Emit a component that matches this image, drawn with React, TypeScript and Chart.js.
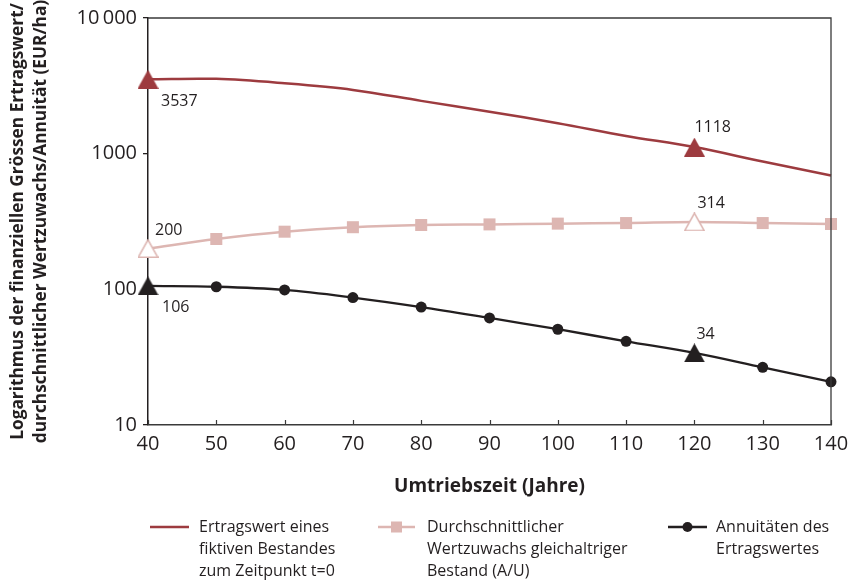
import React, { useEffect, useRef } from 'react';
import { Chart, registerables } from 'chart.js';

Chart.register(...registerables);

// ---------- data ----------
const YEARS = [40, 50, 60, 70, 80, 90, 100, 110, 120, 130, 140];
const ERTRAGSWERT = [3537, 3560, 3300, 2950, 2450, 2040, 1675, 1350, 1118, 875, 690];
const WERTZUWACHS = [200, 235, 266, 287, 298, 301, 305, 308, 314, 308, 303];
const ANNUITAET = [106, 104.5, 99, 87, 74, 61.5, 50.8, 41.4, 34, 26.6, 20.8];

const MARKED_YEARS = [40, 120];
const MARKED_ERTRAGSWERT = [3537, 1118];
const MARKED_WERTZUWACHS = [200, 314];
const MARKED_ANNUITAET = [106, 34];

const X_TICKS = [40, 50, 60, 70, 80, 90, 100, 110, 120, 130, 140];
const Y_TICKS = [10, 100, 1000, 10000];

const X_TITLE = 'Umtriebszeit (Jahre)';
const Y_TITLE = [
  'Logarithmus der finanziellen Grössen Ertragswert/',
  'durchschnittlicher Wertzuwachs/Annuität (EUR/ha)',
];
const LEGEND_LABELS = [
  ['Ertragswert eines', 'fiktiven Bestandes', 'zum Zeitpunkt t=0'],
  ['Durchschnittlicher', 'Wertzuwachs gleichaltriger', 'Bestand (A/U)'],
  ['Annuitäten des', 'Ertragswertes'],
];

// ---------- styles ----------
const FONT = "'Open Sans', 'DejaVu Sans', sans-serif";
const TEXT = '#231f20';
const RED = '#9d3b3f';
const PINK = '#ddb6b2';
const BLACK = '#231f20';
const AXIS = '#231f20';
const FRAME = '#3a3a3a';

function makeTriangle(fill: string, stroke: string, lw: number): HTMLCanvasElement {
  const w = 21;
  const h = 19;
  const c = document.createElement('canvas');
  c.width = w;
  c.height = h;
  const g = c.getContext('2d')!;
  const m = lw / 2;
  g.beginPath();
  g.moveTo(w / 2, m);
  g.lineTo(w - m, h - m);
  g.lineTo(m, h - m);
  g.closePath();
  g.fillStyle = fill;
  g.fill();
  if (lw > 0) {
    g.lineWidth = lw;
    g.strokeStyle = stroke;
    g.lineJoin = 'miter';
    g.stroke();
  }
  return c;
}

const pts = (vals: number[], xs: number[]) => vals.map((v, i) => ({ x: xs[i], y: v }));

const frameAndTicksPlugin = {
  id: 'frameAndTicks',
  afterDraw(chart: any) {
    const { ctx, chartArea } = chart;
    const { left, right, top, bottom } = chartArea;
    ctx.save();
    ctx.strokeStyle = FRAME;
    ctx.lineWidth = 1.3;
    ctx.beginPath();
    ctx.moveTo(left, top);
    ctx.lineTo(right, top);
    ctx.lineTo(right, bottom);
    ctx.stroke();
    const xs = chart.scales.x;
    ctx.lineWidth = 1.2;
    ctx.beginPath();
    X_TICKS.forEach((v) => {
      const px = Math.round(xs.getPixelForValue(v)) + 0.5;
      ctx.moveTo(px, bottom);
      ctx.lineTo(px, bottom - 5);
    });
    ctx.stroke();
    ctx.restore();
  },
};

const pointLabelPlugin = {
  id: 'pointLabels',
  afterDatasetsDraw(chart: any) {
    const { ctx } = chart;
    const xs = chart.scales.x;
    const ys = chart.scales.y;
    const groups = [
      { vals: MARKED_ERTRAGSWERT, off: [[13, 27], [0, -15]] },
      { vals: MARKED_WERTZUWACHS, off: [[7, -13], [3, -14]] },
      { vals: MARKED_ANNUITAET, off: [[14, 26], [2, -14]] },
    ];
    ctx.save();
    ctx.font = `16px ${FONT}`;
    ctx.fillStyle = TEXT;
    ctx.textAlign = 'left';
    ctx.textBaseline = 'alphabetic';
    groups.forEach((g) => {
      g.vals.forEach((v, i) => {
        const px = xs.getPixelForValue(MARKED_YEARS[i]);
        const py = ys.getPixelForValue(v);
        ctx.fillText(String(v), px + g.off[i][0], py + g.off[i][1]);
      });
    });
    ctx.restore();
  },
};

const legendPlugin = {
  id: 'customLegend',
  afterDraw(chart: any) {
    const { ctx } = chart;
    const items = [
      { x0: 150, x1: 189, tx: 199, color: RED, marker: 'none' },
      { x0: 378, x1: 415, tx: 427, color: PINK, marker: 'rect' },
      { x0: 668, x1: 707, tx: 716, color: BLACK, marker: 'circle' },
    ];
    const y0 = 527;
    const lh = 22;
    ctx.save();
    items.forEach((it, k) => {
      ctx.strokeStyle = it.color;
      ctx.lineWidth = 2.5;
      ctx.beginPath();
      ctx.moveTo(it.x0, y0);
      ctx.lineTo(it.x1, y0);
      ctx.stroke();
      const cx = (it.x0 + it.x1) / 2;
      ctx.fillStyle = it.color;
      if (it.marker === 'rect') {
        ctx.fillRect(cx - 5.5, y0 - 5.5, 11, 11);
      } else if (it.marker === 'circle') {
        ctx.beginPath();
        ctx.arc(cx, y0, 5, 0, Math.PI * 2);
        ctx.fill();
      }
      ctx.font = `16px ${FONT}`;
      ctx.fillStyle = TEXT;
      ctx.textAlign = 'left';
      ctx.textBaseline = 'middle';
      LEGEND_LABELS[k].forEach((line, j) => {
        ctx.fillText(line, it.tx, y0 + j * lh);
      });
    });
    ctx.restore();
  },
};

export default function App() {
  const ref = useRef<HTMLCanvasElement | null>(null);

  useEffect(() => {
    if (!ref.current) return;
    const triRed = makeTriangle(RED, RED, 0);
    const triBlack = makeTriangle(BLACK, BLACK, 0);
    const triHollow = makeTriangle('#ffffff', PINK, 1.6);
    const hideMarked = (r: number) => (c: any) =>
      MARKED_YEARS.includes(YEARS[c.dataIndex]) ? 0 : r;

    const chart = new Chart(ref.current, {
      type: 'line',
      data: {
        datasets: [
          {
            label: 'triRed',
            data: pts(MARKED_ERTRAGSWERT, MARKED_YEARS),
            showLine: false,
            pointStyle: triRed as any,
            pointRadius: 10,
            order: 0,
            clip: false as any,
          },
          {
            label: 'triPink',
            data: pts(MARKED_WERTZUWACHS, MARKED_YEARS),
            showLine: false,
            pointStyle: triHollow as any,
            pointRadius: 10,
            order: 0,
            clip: false as any,
          },
          {
            label: 'triBlack',
            data: pts(MARKED_ANNUITAET, MARKED_YEARS),
            showLine: false,
            pointStyle: triBlack as any,
            pointRadius: 10,
            order: 0,
            clip: false as any,
          },
          {
            label: 'Ertragswert',
            data: pts(ERTRAGSWERT, YEARS),
            borderColor: RED,
            borderWidth: 2.5,
            pointRadius: 0,
            tension: 0.35,
            order: 1,
            clip: false as any,
          },
          {
            label: 'Wertzuwachs',
            data: pts(WERTZUWACHS, YEARS),
            borderColor: PINK,
            backgroundColor: PINK,
            borderWidth: 2.5,
            pointStyle: 'rect',
            pointRadius: hideMarked(8.5) as any,
            pointBorderWidth: 0,
            tension: 0.35,
            order: 1,
            clip: false as any,
          },
          {
            label: 'Annuität',
            data: pts(ANNUITAET, YEARS),
            borderColor: BLACK,
            backgroundColor: BLACK,
            borderWidth: 2.3,
            pointStyle: 'circle',
            pointRadius: hideMarked(5.5) as any,
            pointBorderWidth: 0,
            tension: 0.35,
            order: 1,
            clip: false as any,
          },
        ],
      },
      options: {
        animation: false,
        responsive: false,
        layout: { padding: { left: 0, right: 18, top: 18, bottom: 80 } },
        plugins: {
          legend: { display: false },
          tooltip: { enabled: false },
        },
        scales: {
          x: {
            type: 'linear',
            min: 40,
            max: 140,
            afterBuildTicks: (s: any) => {
              s.ticks = X_TICKS.map((v) => ({ value: v }));
            },
            afterFit: (s: any) => {
              s.height = 75;
              s.paddingLeft = 0;
              s.paddingRight = 0;
            },
            grid: { display: false, drawTicks: false },
            border: { display: true, color: FRAME, width: 1.5 },
            ticks: {
              padding: 7,
              color: TEXT,
              font: { family: FONT, size: 20 },
              maxRotation: 0,
              autoSkip: false,
            },
            title: {
              display: true,
              text: X_TITLE,
              color: TEXT,
              font: { family: FONT, size: 19, weight: 'bold' },
              padding: { top: 0, bottom: 2 },
            },
          },
          y: {
            type: 'logarithmic',
            min: 10,
            max: 10000,
            afterBuildTicks: (s: any) => {
              s.ticks = Y_TICKS.map((v) => ({ value: v }));
            },
            afterFit: (s: any) => {
              s.width = 148;
              s.paddingTop = 0;
              s.paddingBottom = 0;
            },
            grid: {
              drawOnChartArea: false,
              drawTicks: true,
              tickLength: 5,
              color: AXIS,
              lineWidth: 1.3,
            },
            border: { display: true, color: AXIS, width: 1.5 },
            ticks: {
              padding: 6,
              color: TEXT,
              font: { family: FONT, size: 20 },
              autoSkip: false,
              callback: (v: any) =>
                Number(v) >= 10000
                  ? String(v).replace(/\B(?=(\d{3})+(?!\d))/g, '\u2009')
                  : String(v),
            },
            title: {
              display: true,
              text: Y_TITLE,
              color: TEXT,
              font: { family: FONT, size: 17.3, weight: 'bold', lineHeight: 1.32 },
              padding: { top: 6.5, bottom: 0 },
            },
          },
        },
      },
      plugins: [frameAndTicksPlugin, pointLabelPlugin, legendPlugin],
    });
    return () => chart.destroy();
  }, []);

  return (
    <div style={{ position: 'absolute', left: 0, top: 0, width: 849, height: 580, background: '#fff' }}>
      <canvas ref={ref} width={849} height={580} style={{ width: 849, height: 580, display: 'block' }} />
    </div>
  );
}
